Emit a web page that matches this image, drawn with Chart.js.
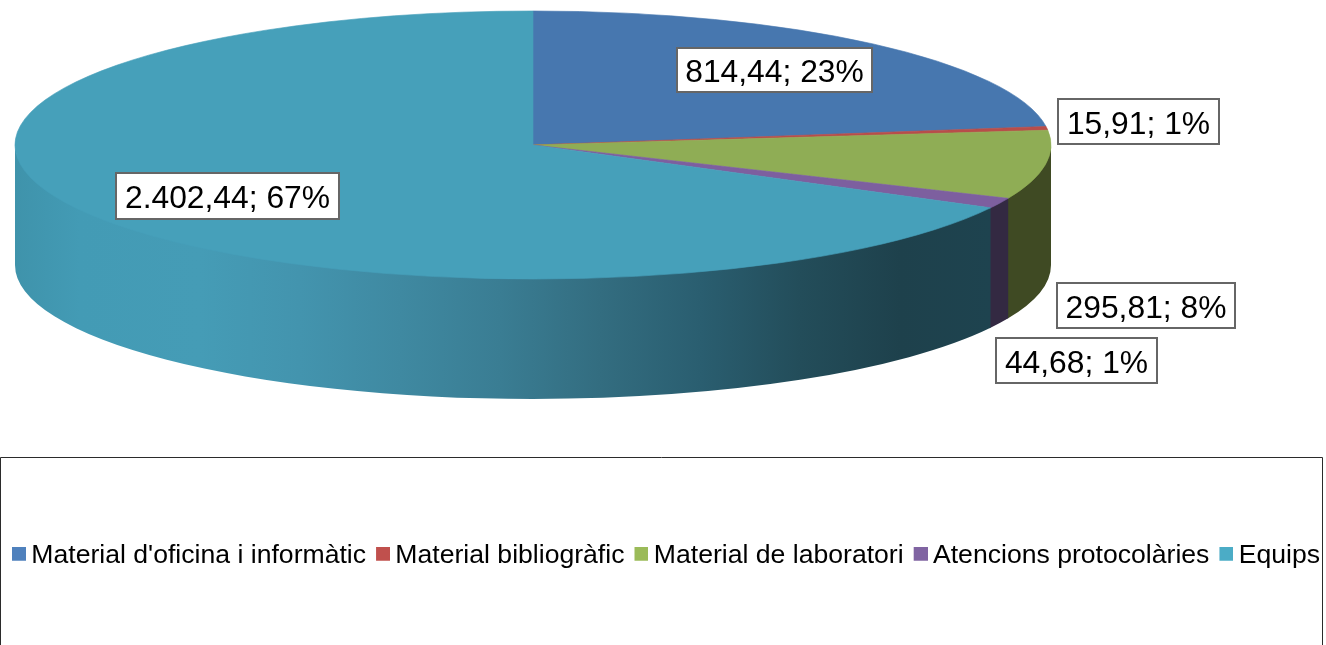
<!DOCTYPE html>
<html lang="ca">
<head>
<meta charset="utf-8">
<title>Despesa per categoria</title>
<style>
html,body{margin:0;padding:0;background:#fff;overflow:hidden}
canvas{display:block}
</style>
<script src="https://cdn.jsdelivr.net/npm/chart.js@4/dist/chart.umd.min.js"></script>
</head>
<body>
<canvas id="c" width="1326" height="645"></canvas>
<script>
const categories = ["Material d'oficina i informàtic", "Material bibliogràfic", "Material de laboratori", "Atencions protocolàries", "Equips"];
const values = [814.44, 15.91, 295.81, 44.68, 2402.44];
const valueLabels = ["814,44", "15,91", "295,81", "44,68", "2.402,44"];
const percentLabels = ["23%", "1%", "8%", "1%", "67%"];
const topColors = ["#4777AF", "#B84D4A", "#8FAD55", "#7D5F9F", "#46A0BA"];
const legendColors = ["#4F81BD", "#C0504D", "#9BBB59", "#8064A2", "#4BACC6"];
const wallColors = ["#2B4565", "#6E2E2C", "#3F4A23", "#332942", null];

const FONT = '"Liberation Sans", Arial, sans-serif';
const pie3d = { cx: 533, cy: 145, rx: 518, ry: 134, depth: 120 };
// box geometry of each label: left, top, right, bottom
const labelBoxes = [[677,48,872,92],[1058,99,1219,144],[1057,283,1235,328],[996,338,1157,383],[116,173,339,219]];
const wallStops = [[15,'#3F93AB'],[80,'#439BB5'],[200,'#459CB6'],[300,'#4394AE'],[400,'#3F89A1'],[500,'#3A7D93'],[600,'#336D80'],[700,'#2A5E70'],[800,'#234D5A'],[900,'#1E414C'],[990,'#1E434F']];

// legend swatch: 14px square, placed off-centre so the library's marker sits close to its text
function swatch(color) {
  const c = document.createElement('canvas');
  c.width = 16; c.height = 18;
  const x = c.getContext('2d');
  x.fillStyle = color;
  x.fillRect(2, 0, 14, 14);
  return c;
}

const pie3dPlugin = {
  id: 'pie3d',
  beforeDraw(chart) {
    const ctx = chart.ctx;
    ctx.save();
    ctx.strokeStyle = '#2b2b2b';
    ctx.lineWidth = 1;
    ctx.beginPath();
    ctx.moveTo(0.5, 700);
    ctx.lineTo(0.5, 457.5);
    ctx.lineTo(1322.5, 457.5);
    ctx.lineTo(1322.5, 700);
    ctx.stroke();
    ctx.restore();
  },
  beforeDatasetsDraw(chart) {
    const ctx = chart.ctx, p = pie3d;
    const arcs = chart.getDatasetMeta(0).data;
    ctx.save();
    arcs.forEach((arc, i) => {
      const a = Math.max(arc.startAngle, 0);
      const b = Math.min(arc.endAngle, Math.PI);
      if (a >= b) return;
      const bx = Math.min(b + 0.004, Math.PI);
      ctx.beginPath();
      ctx.ellipse(p.cx, p.cy - 2, p.rx, p.ry, 0, a, bx);
      ctx.ellipse(p.cx, p.cy + p.depth, p.rx, p.ry, 0, bx, a, true);
      ctx.closePath();
      if (wallColors[i]) {
        ctx.fillStyle = wallColors[i];
      } else {
        const g = ctx.createLinearGradient(15, 0, 990, 0);
        wallStops.forEach(s => g.addColorStop((s[0] - 15) / 975, s[1]));
        ctx.fillStyle = g;
      }
      ctx.fill();
    });
    ctx.restore();
    const arc0 = arcs[0];
    ctx.save();
    ctx.translate(p.cx, p.cy);
    ctx.scale(1, p.ry / p.rx);
    ctx.translate(-arc0.x, -arc0.y);
  },
  afterDatasetsDraw(chart) {
    chart.ctx.restore();
  },
  afterDraw(chart) {
    const ctx = chart.ctx;
    ctx.save();
    ctx.font = '31.8px ' + FONT;
    ctx.textAlign = 'center';
    ctx.textBaseline = 'alphabetic';
    categories.forEach((c, i) => {
      const [l, t, r, b] = labelBoxes[i];
      ctx.fillStyle = '#fff';
      ctx.strokeStyle = '#666';
      ctx.lineWidth = 2;
      ctx.fillRect(l, t, r - l, b - t);
      ctx.strokeRect(l, t, r - l, b - t);
      ctx.fillStyle = '#000';
      ctx.fillText(valueLabels[i] + '; ' + percentLabels[i], (l + r) / 2, (t + b) / 2 + 12);
    });
    ctx.restore();
  }
};

new Chart(document.getElementById('c'), {
  type: 'pie',
  data: {
    labels: categories,
    datasets: [{ data: values, backgroundColor: topColors, borderColor: topColors, borderWidth: 1, clip: false }]
  },
  options: {
    responsive: false,
    animation: false,
    radius: pie3d.rx,
    events: [],
    layout: { padding: { bottom: 66, left: 2, right: -14 } },
    plugins: {
      tooltip: { enabled: false },
      legend: {
        display: true,
        position: 'bottom',
        align: 'start',
        labels: {
          color: '#000',
          font: { family: FONT, size: 26.6 },
          usePointStyle: true,
          boxWidth: 0.1,
          boxHeight: 14,
          padding: 15.95,
          generateLabels(chart) {
            return categories.map((c, i) => ({
              text: c, fillStyle: legendColors[i], strokeStyle: legendColors[i],
              lineWidth: 0, pointStyle: swatch(legendColors[i]), index: i, hidden: false
            }));
          }
        }
      }
    }
  },
  plugins: [pie3dPlugin]
});
</script>
</body>
</html>
